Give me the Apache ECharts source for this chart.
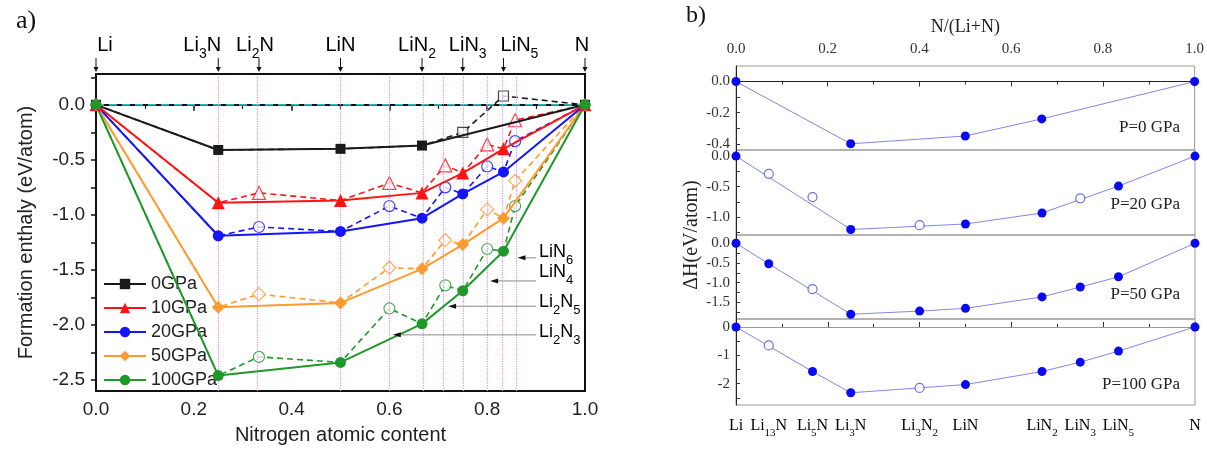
<!DOCTYPE html>
<html><head><meta charset="utf-8">
<script src="https://cdn.jsdelivr.net/npm/echarts@6/dist/echarts.min.js"></script>
<style>html,body{margin:0;padding:0;background:#fff}#c{width:1207px;height:450px}</style>
</head><body><div id="c"></div>
<script>
// ---------------- Panel a) data ----------------
const compX = [0, 0.25, 0.3333, 0.5, 0.6, 0.6667, 0.7143, 0.75, 0.8, 0.8333, 0.8571, 1];
const pressures = ['0GPa', '10GPa', '20GPa', '50GPa', '100GPa'];
// stable (convex hull) formation enthalpies, eV/atom
const hull0   = [0, -0.41, null, -0.40, null, -0.37, null, null,  null, null,  null, 0];
const hull10  = [0, -0.89, null, -0.87, null, -0.80, null, -0.62, null, -0.40, null, 0];
const hull20  = [0, -1.19, null, -1.15, null, -1.03, null, -0.81, null, -0.61, null, 0];
const hull50  = [0, -1.84, null, -1.80, null, -1.49, null, -1.27, null, -1.03, null, 0];
const hull100 = [0, -2.46, null, -2.34, null, -1.99, null, -1.69, null, -1.33, null, 0];
// metastable structures (open symbols, dashed)
const meta0   = [null, null, null,  null, null,  null, null,  -0.25, null,  0.08, null,  null];
const meta10  = [null, null, -0.80, null, -0.71, null, -0.55, null,  -0.36, null, -0.14, null];
const meta20  = [null, null, -1.11, null, -0.92, null, -0.75, null,  -0.56, null, -0.33, null];
const meta50  = [null, null, -1.72, null, -1.48, null, -1.23, null,  -0.95, null, -0.69, null];
const meta100 = [null, null, -2.29, null, -1.85, null, -1.64, null,  -1.31, null, -0.92, null];
const hulls = [hull0, hull10, hull20, hull50, hull100];
const metas = [meta0, meta10, meta20, meta50, meta100];

const topLabelX = [0, 0.25, 0.3333, 0.5, 0.6667, 0.75, 0.8333, 1];
const topLabelNames = ['Li', 'Li3N', 'Li2N', 'LiN', 'LiN2', 'LiN3', 'LiN5', 'N'];
const guideX = [0.25, 0.3333, 0.5, 0.6, 0.6667, 0.7143, 0.75, 0.8, 0.8333, 0.8571];
const leftYLabels = [0, -0.5, -1.0, -1.5, -2.0, -2.5];
const leftYTicks = [0.25, 0, -0.25, -0.5, -0.75, -1.0, -1.25, -1.5, -1.75, -2.0, -2.25, -2.5];

const annNames = ['LiN6', 'LiN4', 'Li2N5', 'Li2N3'];
const annTipX  = [0.862, 0.806, 0.720, 0.607];
const annEndX  = [0.900, 0.900, 0.900, 0.900];
const annY     = [-1.39, -1.60, -1.83, -2.09];
const annTextY = [-1.35, -1.53, -1.80, -2.07];

// ---------------- Panel b) data ----------------
const rX = [0, 0.0714, 0.1667, 0.25, 0.4, 0.5, 0.6667, 0.75, 0.8333, 1];
const rNames = ['Li', 'Li13N', 'Li5N', 'Li3N', 'Li3N2', 'LiN', 'LiN2', 'LiN3', 'LiN5', 'N'];
const dH_P0   = [0, null, null, -0.40, null, -0.35, -0.24, null, null, 0];
const dH_P20  = [0, -0.29, -0.67, -1.20, -1.13, -1.11, -0.93, -0.69, -0.49, 0];
const dH_P50  = [0, -0.52, -1.16, -1.80, -1.72, -1.65, -1.36, -1.11, -0.85, 0];
const dH_P100 = [0, -0.65, -1.57, -2.32, -2.15, -2.03, -1.57, -1.24, -0.85, 0];
const open_P0   = [0, 0, 0, 0, 0, 0, 0, 0, 0, 0];
const open_P20  = [0, 1, 1, 0, 1, 0, 0, 1, 0, 0];
const open_P50  = [0, 0, 1, 0, 0, 0, 0, 0, 0, 0];
const open_P100 = [0, 1, 0, 0, 1, 0, 0, 0, 0, 0];
const panelLabels = ['P=0 GPa', 'P=20 GPa', 'P=50 GPa', 'P=100 GPa'];
const pY = [
  {min: -0.44, max: 0.10, labels: [0, -0.2, -0.4], ticks: [0, -0.1, -0.2, -0.3, -0.4], dec: 1},
  {min: -1.29, max: 0.10, labels: [0, -0.5, -1.0], ticks: [0, -0.25, -0.5, -0.75, -1.0, -1.25], dec: 1},
  {min: -1.92, max: 0.21, labels: [0, -0.5, -1.0, -1.5], ticks: [0, -0.25, -0.5, -0.75, -1.0, -1.25, -1.5, -1.75], dec: 1},
  {min: -2.75, max: 0.28, labels: [0, -1, -2], ticks: [0, -0.5, -1, -1.5, -2, -2.5], dec: 0}
];
const pData = [dH_P0, dH_P20, dH_P50, dH_P100];
const pOpen = [open_P0, open_P20, open_P50, open_P100];

// ---------------- styles ----------------
const SANS = 'Liberation Sans, Arial, sans-serif';
const SERIF = 'Liberation Serif, Times New Roman, serif';
const colorsL = ['#1a1a1a', '#ff1414', '#1414ff', '#ff9a2e', '#1f982a'];
const markersL = ['rect', 'triangle', 'circle', 'diamond', 'circle'];
const sizesL = [10, 13, 11, 13, 11];
const topLabelDx = [9, -16, -4, 0, -5, 5, 16, -3];
const L_MIN = -2.6, L_MAX = 0.28;
const TEAL = '#2ab5b5';

function chem(name) {
  return name.replace(/([A-Za-z]+)(\d*)/g, (m, a, d) => '{m|' + a + '}' + (d ? '{s|' + d + '}' : ''));
}
function richFor(family, fs, sfs, col, drop) {
  return {
    m: {fontFamily: family, fontSize: fs, lineHeight: fs + 2, verticalAlign: 'top', color: col},
    s: {fontFamily: family, fontSize: sfs, lineHeight: sfs, verticalAlign: 'top', padding: [drop, 0, 0, 0], color: col}
  };
}

function pts(xs, ys) { const r = []; ys.forEach((v, i) => { if (v !== null) r.push([xs[i], v]); }); return r; }
function allPts(i) {
  const r = [];
  compX.forEach((x, k) => {
    const v = hulls[i][k] !== null ? hulls[i][k] : metas[i][k];
    if (v !== null) r.push([x, v]);
  });
  return r;
}

const chart = echarts.init(document.getElementById('c'), null, {renderer: 'canvas'});

const grids = [
  {left: 96, top: 74, width: 489, height: 319, show: true, borderColor: '#111', borderWidth: 2},
  {left: 736, top: 66, width: 459, height: 84, show: true, borderColor: '#999', borderWidth: 1},
  {left: 736, top: 150, width: 459, height: 85, show: true, borderColor: '#999', borderWidth: 1},
  {left: 736, top: 235, width: 459, height: 84, show: true, borderColor: '#999', borderWidth: 1},
  {left: 736, top: 319, width: 459, height: 86, show: true, borderColor: '#999', borderWidth: 1}
];

const xAxes = [
  {gridIndex: 0, type: 'value', min: 0, max: 1, interval: 0.2,
   axisLine: {lineStyle: {color: '#111', width: 2}},
   axisTick: {show: true, length: 6, lineStyle: {color: '#111', width: 1.5}},
   minorTick: {show: true, splitNumber: 2, length: 4, lineStyle: {color: '#111', width: 1.2}},
   axisLabel: {fontFamily: SANS, fontSize: 19, color: '#222', margin: 9, formatter: v => v.toFixed(1)},
   splitLine: {show: false},
   name: 'Nitrogen atomic content', nameLocation: 'middle', nameGap: 34,
   nameTextStyle: {fontFamily: SANS, fontSize: 20, color: '#222'}}
];
for (let j = 0; j < 4; j++) {
  xAxes.push({
    gridIndex: j + 1, type: 'value', min: 0, max: 1, interval: 0.2,
    position: j === 0 ? 'top' : 'bottom',
    show: j === 0 || j === 3,
    axisLine: {lineStyle: {color: j === 0 ? '#222' : '#999', width: 1}},
    axisTick: {show: true, inside: true, length: 5, lineStyle: {color: '#333'}},
    minorTick: {show: true, splitNumber: 2, length: 3, lineStyle: {color: '#333'}},
    axisLabel: {show: j === 0, fontFamily: SERIF, fontSize: 15, color: '#333', margin: 9, formatter: v => v.toFixed(1)},
    splitLine: {show: false},
    name: j === 0 ? 'N/(Li+N)' : '', nameLocation: 'middle', nameGap: 30,
    nameTextStyle: {fontFamily: SERIF, fontSize: 18, color: '#222'}
  });
}

const yAxes = [
  {gridIndex: 0, type: 'value', min: L_MIN, max: L_MAX,
   axisLine: {show: true, lineStyle: {color: '#111', width: 2}},
   axisTick: {show: true, customValues: leftYTicks, length: 5, lineStyle: {color: '#111', width: 1.5}},
   axisLabel: {customValues: leftYLabels, fontFamily: SANS, fontSize: 19, color: '#222', margin: 11, formatter: v => v.toFixed(1)},
   splitLine: {show: false},
   name: 'Formation enthaly (eV/atom)', nameLocation: 'middle', nameGap: 60, nameRotate: 90,
   nameTextStyle: {fontFamily: SANS, fontSize: 20, color: '#222'}}
];
for (let j = 0; j < 4; j++) {
  const c = pY[j];
  yAxes.push({
    gridIndex: j + 1, type: 'value', min: c.min, max: c.max,
    axisLine: {show: true, lineStyle: {color: '#222', width: 1}},
    axisTick: {show: true, inside: true, customValues: c.ticks, length: 4, lineStyle: {color: '#333'}},
    axisLabel: {customValues: c.labels, fontFamily: SERIF, fontSize: 15, color: '#333', margin: 6,
                formatter: v => (c.dec ? v.toFixed(1) : String(Math.round(v)))},
    splitLine: {show: false}
  });
}

const series = [];
// vertical guide lines
series.push({
  type: 'line', xAxisIndex: 0, yAxisIndex: 0, data: [], silent: true, z: 1,
  markLine: {silent: true, symbol: 'none', label: {show: false},
    lineStyle: {color: '#d890f2', type: 'dotted', width: 1.2},
    data: guideX.map(x => ({xAxis: x}))}
});
// zero reference line (teal dashed)
series.push({
  type: 'line', xAxisIndex: 0, yAxisIndex: 0, data: [[0, 0], [1, 0]], silent: true, z: 2,
  symbol: 'none', color: TEAL,
  lineStyle: {color: TEAL, type: [8, 5], width: 1.8}
});
for (let i = 0; i < 5; i++) {
  // dashed path through all structures
  series.push({
    type: 'line', xAxisIndex: 0, yAxisIndex: 0, data: allPts(i), symbol: 'none', z: 3,
    lineStyle: {color: colorsL[i], width: 1.6, type: [6, 4]}, silent: true
  });
  // open symbols for metastable
  series.push({
    type: 'scatter', xAxisIndex: 0, yAxisIndex: 0, data: pts(compX, metas[i]), z: 4,
    symbol: markersL[i], symbolSize: sizesL[i],
    itemStyle: {color: '#fff', borderColor: colorsL[i], borderWidth: 1.2}
  });
}
for (let i = 0; i < 5; i++) {
  series.push({
    name: pressures[i], type: 'line', xAxisIndex: 0, yAxisIndex: 0, data: pts(compX, hulls[i]), z: 5,
    symbol: markersL[i], symbolSize: sizesL[i], showAllSymbol: true,
    lineStyle: {color: colorsL[i], width: 2}, itemStyle: {color: colorsL[i]}
  });
}
// top labels with arrows
series.push({
  type: 'custom', xAxisIndex: 0, yAxisIndex: 0, clip: false, silent: true, z: 6,
  data: topLabelX.map((x, i) => [x, i]),
  renderItem: (params, api) => {
    const i = api.value(1);
    const p = api.coord([api.value(0), L_MAX]);
    return {type: 'group', children: [
      {type: 'text', x: p[0] + topLabelDx[i], y: p[1] - 39,
       style: {text: chem(topLabelNames[i]), rich: richFor(SANS, 20, 14, '#111', 12), align: 'center', verticalAlign: 'top'}},
      {type: 'line', shape: {x1: p[0], y1: p[1] - 16, x2: p[0], y2: p[1] - 5}, style: {stroke: '#111', lineWidth: 1}},
      {type: 'polygon', shape: {points: [[p[0] - 2.5, p[1] - 7], [p[0] + 2.5, p[1] - 7], [p[0], p[1] - 2]]}, style: {fill: '#111'}}
    ]};
  }
});
// annotation arrows
series.push({
  type: 'custom', xAxisIndex: 0, yAxisIndex: 0, clip: false, silent: true, z: 6,
  data: annNames.map((n, i) => [annTipX[i], annY[i], annEndX[i], annTextY[i], i]),
  renderItem: (params, api) => {
    const i = api.value(4);
    const tip = api.coord([api.value(0), api.value(1)]);
    const end = api.coord([api.value(2), api.value(1)]);
    const t = api.coord([api.value(2), api.value(3)]);
    return {type: 'group', children: [
      {type: 'line', shape: {x1: tip[0] + 4, y1: tip[1], x2: end[0], y2: end[1]}, style: {stroke: '#8a8a8a', lineWidth: 1}},
      {type: 'polygon', shape: {points: [[tip[0], tip[1]], [tip[0] + 8, tip[1] - 2.5], [tip[0] + 8, tip[1] + 2.5]]}, style: {fill: '#111'}},
      {type: 'text', x: end[0] + 3, y: t[1] - 10,
       style: {text: chem(annNames[i]), rich: richFor(SANS, 18, 13, '#111', 11), align: 'left', verticalAlign: 'top'}}
    ]};
  }
});

// Panel b series
for (let j = 0; j < 4; j++) {
  const stable = [], open = [];
  pData[j].forEach((v, k) => { if (v === null) return; (pOpen[j][k] ? open : stable).push([rX[k], v]); });
  series.push({
    type: 'line', xAxisIndex: j + 1, yAxisIndex: j + 1, data: stable, z: 3,
    symbol: 'circle', symbolSize: 9, lineStyle: {color: '#8585e6', width: 1}, itemStyle: {color: '#0a0af0'}
  });
  series.push({
    type: 'scatter', xAxisIndex: j + 1, yAxisIndex: j + 1, data: open, z: 4,
    symbol: 'circle', symbolSize: 9, itemStyle: {color: '#fff', borderColor: '#4b4bd6', borderWidth: 1.2}
  });
}
// bottom compound labels of panel b
series.push({
  type: 'custom', xAxisIndex: 4, yAxisIndex: 4, clip: false, silent: true, z: 6,
  data: rX.map((x, i) => [x, i]),
  renderItem: (params, api) => {
    const i = api.value(1);
    const p = api.coord([api.value(0), pY[3].min]);
    return {type: 'text', x: p[0], y: p[1] + 13,
      style: {text: chem(rNames[i]), rich: richFor(SERIF, 16, 11, '#222', 10), align: 'center', verticalAlign: 'top'}};
  }
});

const graphics = [
  {type: 'text', left: 16, top: 8, style: {text: 'a)', font: '26px ' + SERIF, fill: '#111'}},
  {type: 'text', left: 686, top: 4, style: {text: 'b)', font: '24px ' + SERIF, fill: '#111'}},
  {type: 'text', x: 692, y: 235, rotation: Math.PI / 2,
   style: {text: 'ΔH(eV/atom)', font: '20px ' + SERIF, fill: '#222', align: 'center', verticalAlign: 'middle'}}
];
const pLabelY = [128, 205, 295, 385];
panelLabels.forEach((t, j) => graphics.push({type: 'text', x: 1180, y: pLabelY[j],
  style: {text: t, font: '17px ' + SERIF, fill: '#222', align: 'right', verticalAlign: 'middle'}}));

chart.setOption({
  animation: false,
  backgroundColor: '#fff',
  grid: grids,
  xAxis: xAxes,
  yAxis: yAxes,
  legend: {
    data: pressures, orient: 'vertical', left: 98, top: 270,
    itemWidth: 42, itemHeight: 13, itemGap: 6,
    textStyle: {fontFamily: SANS, fontSize: 18, color: '#222'}
  },
  graphic: graphics,
  series: series
});
</script></body></html>
